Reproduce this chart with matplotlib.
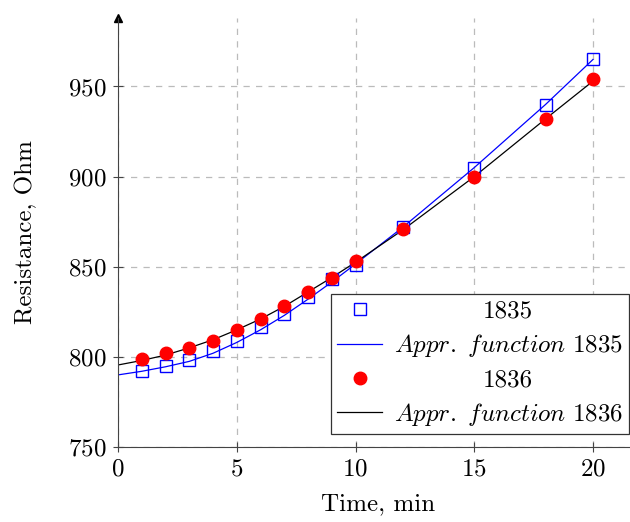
import matplotlib
matplotlib.use("Agg")
import matplotlib.pyplot as plt

matplotlib.rcParams["font.family"] = "cmr10"
matplotlib.rcParams["mathtext.fontset"] = "cm"
matplotlib.rcParams["axes.formatter.use_mathtext"] = True
matplotlib.rcParams["font.size"] = 18

# measured points
t_pts = [1, 2, 3, 4, 5, 6, 7, 8, 9, 10, 12, 15, 18, 20]
r_1835 = [792, 795, 798, 803, 809, 816.5, 824, 833, 843, 851, 872, 905, 940, 965]
r_1836 = [799, 802, 805, 809, 815, 821, 828, 836, 844, 853, 871, 900, 932, 954]

# approximation curves
t_fit = [0, 1, 2, 3, 4, 5, 6, 7, 8, 9, 10, 12, 15, 18, 20]
fit_1835 = [790, 792, 794.5, 797.5, 802, 808, 815, 823, 832, 841.5, 851.5, 872, 905, 940, 965]
fit_1836 = [795.5, 798, 801, 805, 809.5, 815, 821, 828, 836, 844, 852.5, 870.5, 900, 932, 953]

PAD = r"\;\;\;"  # extra room at right of the legend

fig = plt.figure(figsize=(6.3, 5.22), dpi=100)
ax = fig.add_axes([118 / 630, 75 / 522, 520 / 630, 429 / 522])

ax.plot(t_pts, r_1835, ls="none", marker="s", ms=8, mfc="none", mec="blue",
        mew=1.0, label="1835", zorder=3)
ax.plot(t_fit, fit_1835, color="blue", lw=0.9,
        label=r"$\mathit{Appr.\ function\ 1835}" + PAD + "$", zorder=2)
ax.plot(t_pts, r_1836, ls="none", marker="o", ms=9, color="red",
        label="1836", zorder=4)
ax.plot(t_fit, fit_1836, color="black", lw=0.9,
        label=r"$\mathit{Appr.\ function\ 1836}" + PAD + "$", zorder=2)

ax.set_xlim(0, 520 / 23.75)
ax.set_ylim(750, 988)
ax.set_xticks([0, 5, 10, 15, 20])
ax.set_yticks([750, 800, 850, 900, 950])
ax.grid(True, ls=(0, (5, 5)), color="#bbbbbb", lw=0.9)
ax.set_axisbelow(True)
ax.spines["top"].set_visible(False)
ax.spines["right"].set_visible(False)
for s in ("left", "bottom"):
    ax.spines[s].set_color("#444444")
ax.tick_params(direction="inout", length=7, width=0.8, color="#444444", pad=5)
ax.plot([0], [1.0], marker="^", ms=6, color="black", transform=ax.transAxes,
        clip_on=False)

ax.set_xlabel("Time, min", labelpad=9)
ax.set_ylabel("Resistance, Ohm", labelpad=22)

leg = ax.legend(loc="lower right", bbox_to_anchor=(629 / 630, 88 / 522),
                bbox_transform=fig.transFigure, fancybox=False,
                edgecolor="#333333", framealpha=1, borderpad=0.25,
                handlelength=1.8, handletextpad=0.45, labelspacing=0.38,
                borderaxespad=0)
leg.get_frame().set_linewidth(0.9)

# centre the short entries on the long ones (without the padding)
fig.canvas.draw()
renderer = fig.canvas.get_renderer()
tmp = fig.text(0, 0, r"$\mathit{Appr.\ function\ 1835}$")
core = tmp.get_window_extent(renderer).width
tmp.remove()
for t in leg.get_texts():
    w = t.get_window_extent(renderer).width
    if w < core:
        t.set_position(((core - w) / 2, 0))

fig.savefig("out.png", dpi=100)
